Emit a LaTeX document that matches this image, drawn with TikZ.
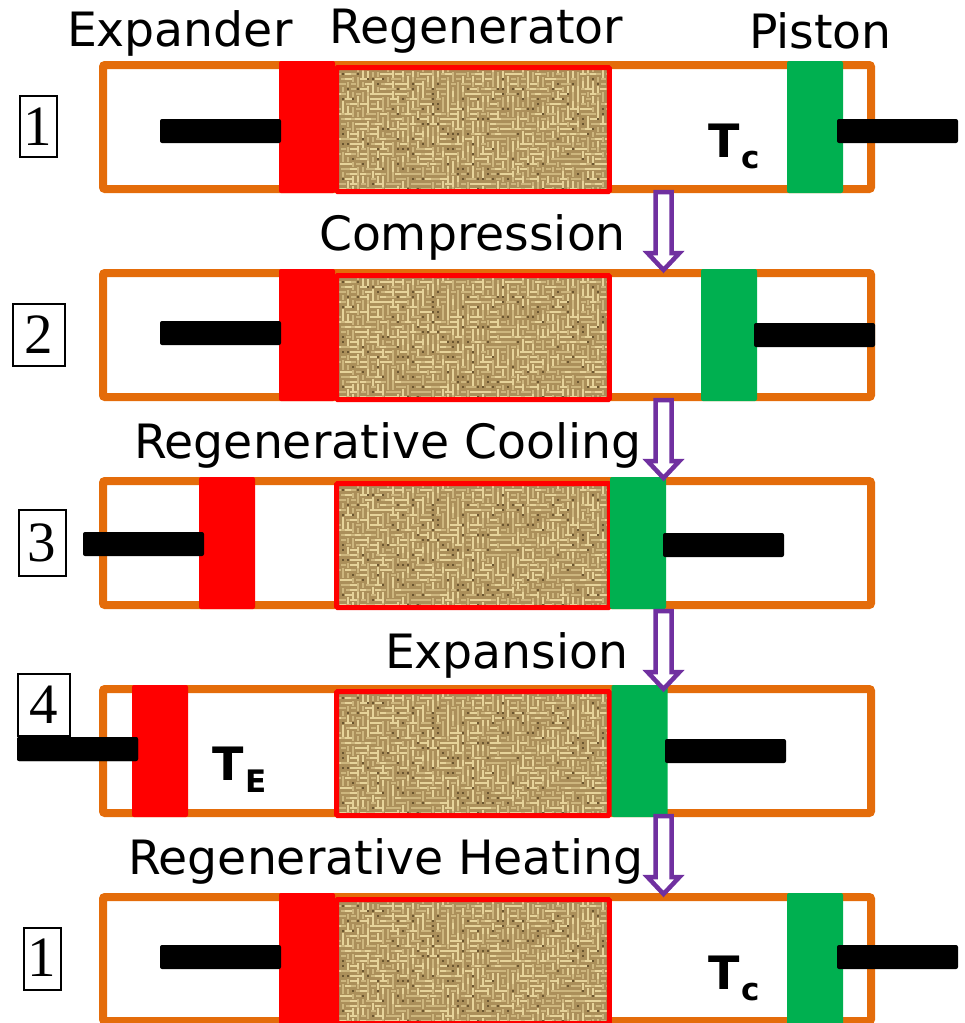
\documentclass[tikz,border=0pt]{standalone}
\usepackage{fontspec}
\setmainfont{DejaVu Sans}
\newfontfamily\digitfont{Liberation Serif}
\usetikzlibrary{calc}
\definecolor{cylorange}{HTML}{E46C0A}
\definecolor{pistongreen}{HTML}{00B050}
\definecolor{flowpurple}{HTML}{7030A0}
\definecolor{burlapbase}{HTML}{AB8F5A}
\definecolor{burlaplight}{HTML}{E6D39A}
\definecolor{burlapmid}{HTML}{CDB67E}
\definecolor{burlapdark}{HTML}{6A5530}
\tikzset{
  part/.style={inner sep=0pt,outer sep=0pt,rectangle,rounded corners=2pt},
  cylinder/.style={part,draw=cylorange,line width=8pt},
  expander/.style={part,fill=red},
  powerpiston/.style={part,fill=pistongreen},
  rod/.style={part,fill=black},
  regenframe/.style={part,draw=red,line width=5pt,rounded corners=1pt},
  stagebox/.style={inner sep=0pt,outer sep=0pt,rectangle,draw=black,line width=2pt,fill=white,font=\digitfont\fontsize{57}{60}\selectfont},
  label/.style={inner sep=0pt,outer sep=0pt,anchor=base west,font=\fontsize{47.3}{50}\selectfont},
  tempT/.style={inner sep=0pt,outer sep=0pt,anchor=base west,font=\bfseries\fontsize{46}{50}\selectfont},
  tempsub/.style={inner sep=0pt,outer sep=0pt,anchor=base west,font=\bfseries\fontsize{31}{34}\selectfont},
  flowarrow/.style={draw=flowpurple,fill=white,line width=4.5pt,miter limit=10,line join=miter},
}
% a box given by its left, top, right and bottom pixel edges
\newcommand{\pxnode}[6]{\node[#2,minimum width={(#5-(#3))*1pt},minimum height={(#6-(#4))*1pt}] (#1) at ({(#3+#5)/2},{(#4+#6)/2}) {};}
\newcommand{\burlap}[1]{%
  \begin{scope}
    \pgfmathsetseed{4217}
    \clip (338,#1+69) rectangle (608,#1+190);
    \fill[burlapbase] (338,#1+69) rectangle (608,#1+190);
    \foreach \i in {0,...,54}{\foreach \j in {0,...,24}{%
      \pgfmathrandominteger{\rr}{0}{99}%
      \pgfmathrandominteger{\ss}{0}{99}%
      \pgfmathsetmacro{\cx}{338+\i*5}%
      \pgfmathsetmacro{\cy}{#1+69+\j*5}%
      \ifnum\ss<11
        \fill[burlapdark] (\cx-1.2,\cy-1.2) rectangle (\cx+1.2,\cy+1.2);
      \else
        \ifnum\rr<50
          \ifnum\ss<52
            \draw[burlaplight,line width=1.7pt] (\cx-3.5,\cy) -- (\cx+4,\cy);
          \else
            \draw[burlapmid,line width=2pt] (\cx-2,\cy) -- (\cx+3,\cy);
          \fi
        \else
          \ifnum\ss<52
            \draw[burlaplight,line width=1.7pt] (\cx,\cy-3.5) -- (\cx,\cy+4);
          \else
            \draw[burlapmid,line width=2pt] (\cx,\cy-2) -- (\cx,\cy+3);
          \fi
        \fi
      \fi
    }}
  \end{scope}}
% #1 number  #2 y offset  #3 expander x  #4 piston x  #5 expander rod x  #6 expander rod y  #7 piston rod x  #8 piston rod y
\newcommand{\stage}[8]{%
  \pxnode{cyl#1}{cylinder}{103}{#2+65}{871}{#2+189}
  \burlap{#2}
  \pxnode{regen#1}{regenframe}{336.7}{#2+67.5}{609.3}{#2+191.5}
  \pxnode{exp#1}{expander}{#3}{#2+61}{#3+56}{#2+193}
  \pxnode{pis#1}{powerpiston}{#4}{#2+61}{#4+56}{#2+193}
  \pxnode{erod#1}{rod}{#5}{#6}{#5+121}{#6+24}
  \pxnode{prod#1}{rod}{#7}{#8}{#7+121}{#8+24}}
\newcommand{\blockarrow}[2]{%
  \draw[flowarrow] ($(#1)+(-8,0)$) -- ($(#2)+(-8,-17)$) -- ($(#2)+(-16,-17)$) -- (#2) -- ($(#2)+(16,-17)$) -- ($(#2)+(8,-17)$) -- ($(#1)+(8,0)$) -- cycle;}
\begin{document}
\begin{tikzpicture}[x=1pt,y=-1pt]
\useasboundingbox (0,0) rectangle (965,1023);
\clip (0,0) rectangle (965,1023);
\stage{1}{0}{279}{787}{160}{119}{837}{119}
\stage{2}{208}{279}{701}{160}{321}{754}{323}
\stage{3}{416}{199}{610}{83}{532}{663}{533}
\stage{4}{624}{132}{611.5}{17}{737}{665}{739}
\stage{5}{832}{279}{787}{160}{945}{837}{945}
% stage numbers
\pxnode{num1}{stagebox}{20}{96}{56.5}{157}
\node[stagebox,draw=none,fill=none] (d1) at (38,127) {1};
\pxnode{num2}{stagebox}{12.5}{304}{64.5}{366}
\node[stagebox,draw=none,fill=none] (d2) at (38.5,335) {2};
\pxnode{num3}{stagebox}{18.5}{509.5}{65.5}{575.5}
\node[stagebox,draw=none,fill=none] (d3) at (42,543) {3};
\pxnode{num4}{stagebox}{17.5}{674}{70}{736}
\node[stagebox,draw=none,fill=none] (d4) at (43.5,705) {4};
\pxnode{num5}{stagebox}{23.5}{928}{60.5}{990}
\node[stagebox,draw=none,fill=none] (d5) at (42,958) {1};
% bar over stage-4 box
\pxnode{erod4b}{rod}{17}{737}{138}{761}
% labels
\node[label] (lexp) at (67,46) {Expander};
\node[label] (lreg) at (329.5,43) {Regenerator};
\node[label] (lpis) at (749,48) {Piston};
\node[label] (lcomp) at (319,250) {Compression};
\node[label] (lcool) at (134,458) {Regenerative Cooling};
\node[label] (lexpn) at (385,668) {Expansion};
\node[label] (lheat) at (128,874) {Regenerative Heating};
% temperatures
\node[tempT] (tc1) at (708,157) {T};
\node[tempsub] (tc1s) at (741,168) {c};
\node[tempT] (te) at (212,780) {T};
\node[tempsub] (tes) at (245,792) {E};
\node[tempT] (tc5) at (708,989) {T};
\node[tempsub] (tc5s) at (741,1000) {c};
% arrows between stages
\coordinate (a1s) at (663.5,192);
\coordinate (a1e) at (663.5,270);
\coordinate (a2s) at (663.5,400);
\coordinate (a2e) at (663.5,478);
\coordinate (a3s) at (663.5,611);
\coordinate (a3e) at (663.5,689);
\coordinate (a4s) at (663.5,816);
\coordinate (a4e) at (663.5,894);
\blockarrow{a1s}{a1e}
\blockarrow{a2s}{a2e}
\blockarrow{a3s}{a3e}
\blockarrow{a4s}{a4e}
\end{tikzpicture}
\end{document}
